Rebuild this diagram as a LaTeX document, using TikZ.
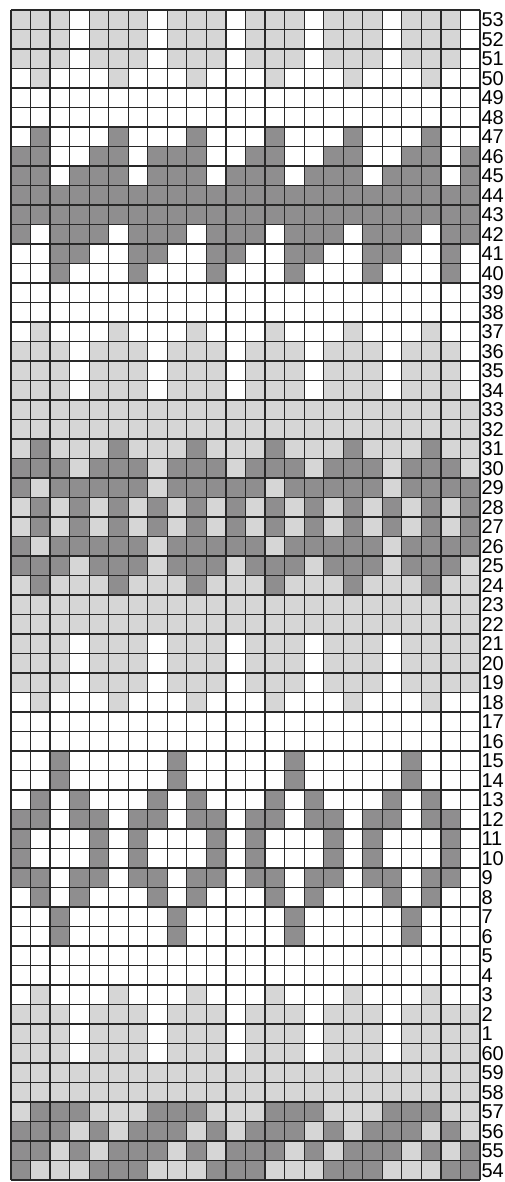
\documentclass[tikz,border=0pt]{standalone}
\usepackage{fontspec}
\setmainfont{Liberation Sans}
\definecolor{lightcell}{RGB}{214,214,214}
\definecolor{darkcell}{RGB}{143,142,143}
\definecolor{gridc}{RGB}{40,40,40}
\makeatletter
\newcount\chcol
\newcommand\chartrow[2]{\chcol=0 \def\ch@row{#1}\ch@cells#2\@nil}
\def\ch@cells#1{\ifx#1\@nil\else\ch@cell#1\advance\chcol by 1 \expandafter\ch@cells\fi}
\def\ch@cell#1{%
  \if#1L\fill[lightfill] (\the\chcol,-\ch@row) rectangle ++(1,-1);\fi
  \if#1D\fill[darkfill] (\the\chcol,-\ch@row) rectangle ++(1,-1);\fi}
\makeatother
\tikzset{
  lightfill/.style={fill=lightcell},
  darkfill/.style={fill=darkcell},
  gridline/.style={draw=gridc, line width=0.6pt},
  rowlabel/.style={anchor=west, inner sep=0pt, font=\fontsize{10}{10}\selectfont, text=black}
}
\begin{document}
\begin{tikzpicture}[x=9.7708pt, y=9.75pt]
\useasboundingbox (-5.5pt,5pt) rectangle (246.5pt,-586pt);
\fill[white] (-5.5pt,5pt) rectangle (246.5pt,-586pt);
% rows from top (index 0 = row 53) to bottom (index 59 = row 54)
\chartrow{0}{LLLWLLLWLLLWLLLWLLLWLLLW}
\chartrow{1}{LLLWLLLWLLLWLLLWLLLWLLLW}
\chartrow{2}{LLLWLLLWLLLWLLLWLLLWLLLW}
\chartrow{3}{WLWWWLWWWLWWWLWWWLWWWLWW}
\chartrow{4}{WWWWWWWWWWWWWWWWWWWWWWWW}
\chartrow{5}{WWWWWWWWWWWWWWWWWWWWWWWW}
\chartrow{6}{WDWWWDWWWDWWWDWWWDWWWDWW}
\chartrow{7}{DDWWDDWDDDWWDDWWDDWWDDWD}
\chartrow{8}{DDWDDDWDDDWDDDWDDDWDDDWD}
\chartrow{9}{DDDDDDDDDDDDDDDDDDDDDDDD}
\chartrow{10}{DDDDDDDDDDDDDDDDDDDDDDDD}
\chartrow{11}{DWDDDWDDDWDDDWDDDWDDDWDD}
\chartrow{12}{WWDDWWDDWWDDWWDDWWDDWWDW}
\chartrow{13}{WWDWWWDWWWDWWWDWWWDWWWDW}
\chartrow{14}{WWWWWWWWWWWWWWWWWWWWWWWW}
\chartrow{15}{WWWWWWWWWWWWWWWWWWWWWWWW}
\chartrow{16}{WLWWWLWWWLWWWLWWWLWWWLWW}
\chartrow{17}{LLLWLLLWLLLWLLLWLLLWLLLW}
\chartrow{18}{LLLWLLLWLLLWLLLWLLLWLLLW}
\chartrow{19}{LLLWLLLWLLLWLLLWLLLWLLLW}
\chartrow{20}{LLLLLLLLLLLLLLLLLLLLLLLL}
\chartrow{21}{LLLLLLLLLLLLLLLLLLLLLLLL}
\chartrow{22}{LDLLLDLLLDLLLDLLLDLLLDLL}
\chartrow{23}{DDDLDDDLDDDLDDDLDDDLDDDL}
\chartrow{24}{DLDDDDDLDDDDDLDDDDDLDDDD}
\chartrow{25}{LDLDLDLDLDLDLDLDLDLDLDLD}
\chartrow{26}{LDLDLDLDLDLDLDLDLDLDLDLD}
\chartrow{27}{DLDDDDDLDDDDDLDDDDDLDDDD}
\chartrow{28}{DDDLDDDLDDDLDDDLDDDLDDDL}
\chartrow{29}{LDLLLDLLLDLLLDLLLDLLLDLL}
\chartrow{30}{LLLLLLLLLLLLLLLLLLLLLLLL}
\chartrow{31}{LLLLLLLLLLLLLLLLLLLLLLLL}
\chartrow{32}{LLLWLLLWLLLWLLLWLLLWLLLL}
\chartrow{33}{LLLWLLLWLLLWLLLWLLLWLLLL}
\chartrow{34}{LLLWLLLWLLLWLLLWLLLWLLLL}
\chartrow{35}{WLWWWLWWWLWWWLWWWLWWWLWW}
\chartrow{36}{WWWWWWWWWWWWWWWWWWWWWWWW}
\chartrow{37}{WWWWWWWWWWWWWWWWWWWWWWWW}
\chartrow{38}{WWDWWWWWDWWWWWDWWWWWDWWW}
\chartrow{39}{WWDWWWWWDWWWWWDWWWWWDWWW}
\chartrow{40}{WDWDWWWDWDWWWDWDWWWDWDWW}
\chartrow{41}{DDWDDWDDWDDWDDWDDWDDWDDW}
\chartrow{42}{DWWWDWDWWWDWDWWWDWDWWWDW}
\chartrow{43}{DWWWDWDWWWDWDWWWDWDWWWDW}
\chartrow{44}{DDWDDWDDWDDWDDWDDWDDWDDW}
\chartrow{45}{WDWDWWWDWDWWWDWDWWWDWDWW}
\chartrow{46}{WWDWWWWWDWWWWWDWWWWWDWWW}
\chartrow{47}{WWDWWWWWDWWWWWDWWWWWDWWW}
\chartrow{48}{WWWWWWWWWWWWWWWWWWWWWWWW}
\chartrow{49}{WWWWWWWWWWWWWWWWWWWWWWWW}
\chartrow{50}{WLWWWLWWWLWWWLWWWLWWWLWW}
\chartrow{51}{LLLWLLLWLLLWLLLWLLLWLLLL}
\chartrow{52}{LLLWLLLWLLLWLLLWLLLWLLLL}
\chartrow{53}{LLLWLLLWLLLWLLLWLLLWLLLL}
\chartrow{54}{LLLLLLLLLLLLLLLLLLLLLLLL}
\chartrow{55}{LLLLLLLLLLLLLLLLLLLLLLLL}
\chartrow{56}{LDDDLLLDDDLLLDDDLLLDDDLL}
\chartrow{57}{DDDLDLDDDLDLDDDLDLDDDLDL}
\chartrow{58}{DDLDLDDDLDLDDDLDLDDDLDLD}
\chartrow{59}{DLLLDDDLLLDDDLLLDDDLLLDD}
% grid
\foreach \i in {0,...,24} \draw[gridline] (\i,0) -- (\i,-60);
\foreach \j in {0,...,60} \draw[gridline] (0,-\j) -- (24,-\j);
% row numbers
\foreach \lab [count=\k from 0] in {53,52,51,50,49,48,47,46,45,44,43,42,41,40,39,38,37,36,35,34,33,32,31,30,29,28,27,26,25,24,23,22,21,20,19,18,17,16,15,14,13,12,11,10,9,8,7,6,5,4,3,2,1,60,59,58,57,56,55,54}
  \node[rowlabel] (lab\lab) at ([xshift=0.6pt]24,-\k-0.5) {\lab};
\end{tikzpicture}
\end{document}
